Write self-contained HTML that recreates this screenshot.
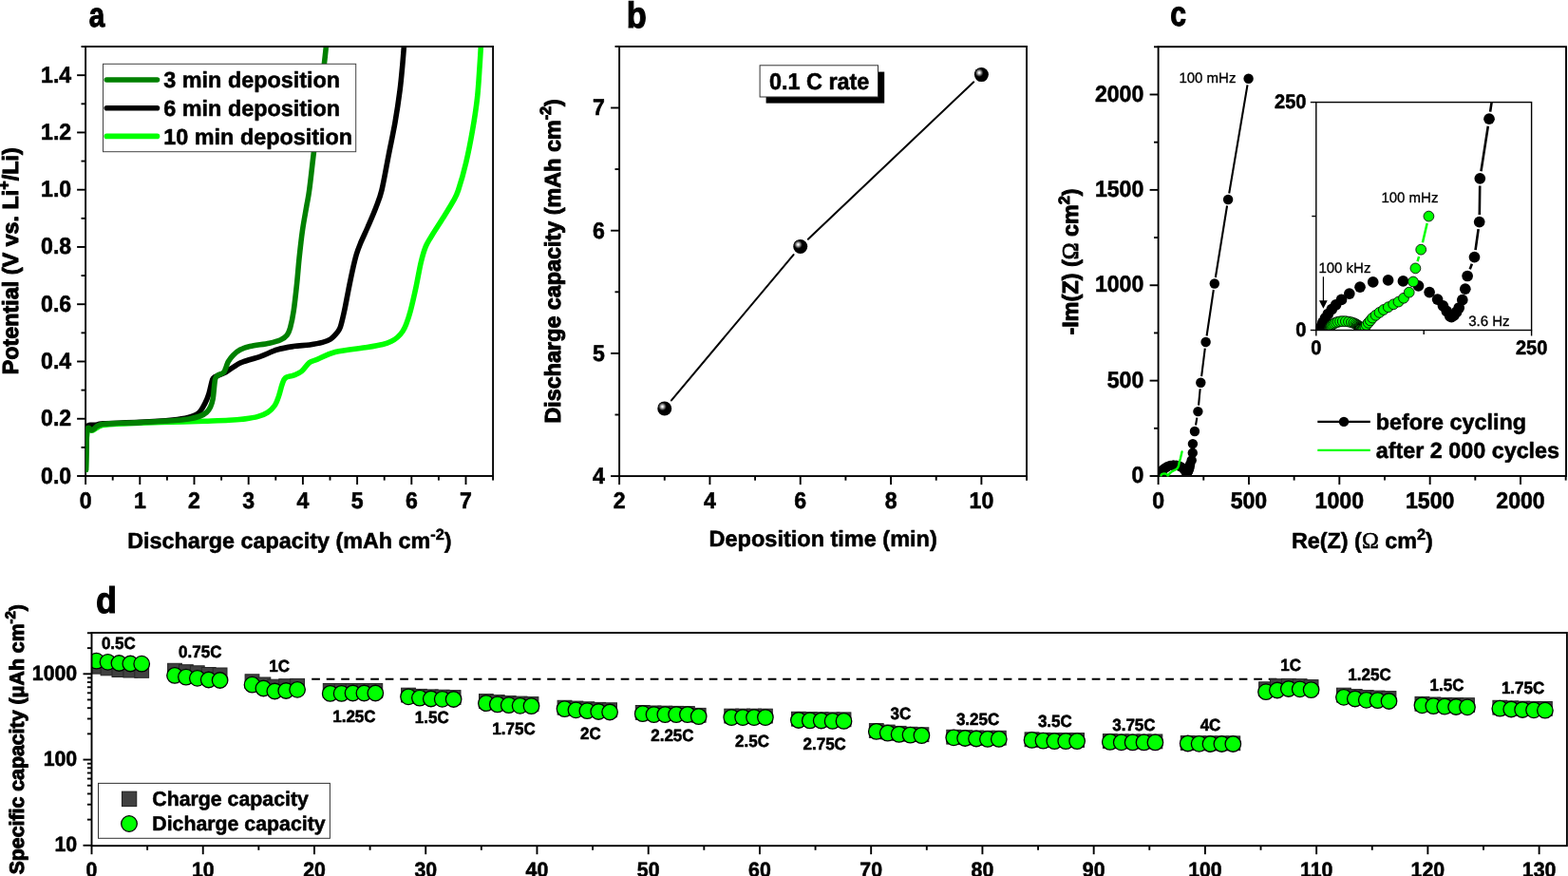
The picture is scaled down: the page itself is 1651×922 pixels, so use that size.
<!DOCTYPE html>
<html lang="en">
<head>
<meta charset="utf-8">
<title>Figure</title>
<style>
html,body{margin:0;padding:0;background:#fff;}
body{width:1651px;height:922px;overflow:hidden;}
svg{display:block;}
</style>
</head>
<body>
<svg width="1651" height="922" viewBox="0 0 1651 922" font-family='"Liberation Sans", sans-serif' fill="#000" text-rendering="geometricPrecision">
<rect x="0" y="0" width="1651" height="922" fill="#fff"/>
<g id="panel-a">
<clipPath id="clipA"><rect x="90.19999999999999" y="49.9" width="429.0" height="450.2"/></clipPath>
<rect x="90.1" y="49" width="429" height="452" fill="none" stroke="#000" stroke-width="1.9"/>
<g clip-path="url(#clipA)" fill="none" stroke-width="5.6" stroke-linejoin="round" stroke-linecap="round">
<path d="M90.5,494.5C90.58,490.42 90.77,476.68 91,470C91.23,463.32 91.32,457.3 91.9,454.4C92.48,451.5 93.48,452.87 94.5,452.6C95.52,452.33 96.75,453.2 98,452.8C99.25,452.4 100.6,451 102,450.2C103.4,449.4 104.23,448.6 106.4,448C108.57,447.4 108.1,447.07 115,446.6C121.9,446.13 136.67,445.6 147.8,445.2C158.93,444.8 170.48,444.53 181.8,444.2C193.12,443.87 205.82,443.52 215.7,443.2C225.58,442.88 234.03,442.68 241.1,442.3C248.17,441.92 253,441.55 258.1,440.9C263.2,440.25 267.75,439.53 271.7,438.4C275.65,437.27 278.83,436.08 281.8,434.1C284.77,432.12 287.52,429.47 289.5,426.5C291.48,423.53 292.43,419.97 293.7,416.3C294.97,412.63 295.97,407.6 297.1,404.5C298.23,401.4 298.52,399.27 300.5,397.7C302.48,396.13 306.17,396.23 309,395.1C311.83,393.97 314.68,393.15 317.5,390.9C320.32,388.65 323.08,383.72 325.9,381.6C328.72,379.48 329.88,380.05 334.4,378.2C338.92,376.35 344.3,372.62 353,370.5C361.7,368.38 378.27,366.83 386.6,365.5C394.93,364.17 398.77,363.53 403,362.5C407.23,361.47 409.42,360.55 412,359.3C414.58,358.05 416.53,356.72 418.5,355C420.47,353.28 422.28,351.25 423.8,349C425.32,346.75 426.2,345.13 427.6,341.5C429,337.87 430.45,333.82 432.2,327.2C433.95,320.58 436.27,310.28 438.1,301.8C439.93,293.32 441.5,283.37 443.2,276.3C444.9,269.23 446.33,264.2 448.3,259.4C450.27,254.6 451.9,252.6 455,247.5C458.1,242.4 463.22,234.73 466.9,228.8C470.58,222.87 474.48,216.7 477.1,211.9C479.72,207.1 480.33,206.78 482.6,200C484.87,193.22 488.22,181.65 490.7,171.2C493.18,160.75 495.53,148.6 497.5,137.3C499.47,126 501.23,114.72 502.5,103.4C503.77,92.08 504.43,78.97 505.1,69.4C505.77,59.83 506.27,49.9 506.5,46" stroke="#00ff00"/>
<path d="M90.3,494.5C90.38,490.42 90.6,477.25 90.8,470C91,462.75 91.05,454.73 91.5,451C91.95,447.27 92.58,448.22 93.5,447.6C94.42,446.98 95.58,447.4 97,447.3C98.42,447.2 100,447.25 102,447C104,446.75 101.37,446.23 109,445.8C116.63,445.37 135.67,445.03 147.8,444.4C159.93,443.77 173.43,442.82 181.8,442C190.17,441.18 193.48,440.67 198,439.5C202.52,438.33 205.95,437.45 208.9,435C211.85,432.55 213.87,428.2 215.7,424.8C217.53,421.4 218.63,418.57 219.9,414.6C221.17,410.63 222.3,403.97 223.3,401C224.3,398.03 223.5,398.35 225.9,396.8C228.3,395.25 233.75,393.87 237.7,391.7C241.65,389.53 246.48,385.63 249.6,383.8C252.72,381.97 252.17,382.2 256.4,380.7C260.63,379.2 269.07,376.92 275,374.8C280.93,372.68 286.33,369.7 292,368C297.67,366.3 303.35,365.45 309,364.6C314.65,363.75 320.82,363.6 325.9,362.9C330.98,362.2 335.82,361.38 339.5,360.4C343.18,359.42 345.45,358.7 348,357C350.55,355.3 353.07,352.33 354.8,350.2C356.53,348.07 357.1,348.03 358.4,344.2C359.7,340.37 361.18,333.7 362.6,327.2C364.02,320.7 365.48,312.27 366.9,305.2C368.32,298.13 369.7,291.03 371.1,284.8C372.5,278.57 373.88,272.6 375.3,267.8C376.72,263 377.62,260.8 379.6,256C381.58,251.2 384.52,245.22 387.2,239C389.88,232.78 393.23,225.2 395.7,218.7C398.17,212.2 399.73,209.33 402,200C404.27,190.67 406.97,174.57 409.3,162.7C411.63,150.83 414.03,140.1 416,128.8C417.97,117.5 419.82,104.8 421.1,94.9C422.38,85 422.95,77.55 423.7,69.4C424.45,61.25 425.28,49.9 425.6,46" stroke="#000"/>
<path d="M90.4,494.5C90.48,490.42 90.68,476.92 90.9,470C91.12,463.08 91.28,456.3 91.7,453C92.12,449.7 92.68,450.23 93.4,450.2C94.12,450.17 95.13,452.53 96,452.8C96.87,453.07 97.67,452.43 98.6,451.8C99.53,451.17 100.3,449.83 101.6,449C102.9,448.17 104.17,447.35 106.4,446.8C108.63,446.25 110.07,445.98 115,445.7C119.93,445.42 130.53,445.28 136,445.1C141.47,444.92 140.17,444.98 147.8,444.6C155.43,444.22 173.32,443.42 181.8,442.8C190.28,442.18 193.9,441.7 198.7,440.9C203.5,440.1 207.48,439.13 210.6,438C213.72,436.87 215.57,435.73 217.4,434.1C219.23,432.47 220.47,430.6 221.6,428.2C222.73,425.8 223.55,423.1 224.2,419.7C224.85,416.3 225.08,411.33 225.5,407.8C225.92,404.27 226.07,400.62 226.7,398.5C227.33,396.38 227.88,396.15 229.3,395.1C230.72,394.05 233.8,393.47 235.2,392.2C236.6,390.93 236.85,389.42 237.7,387.5C238.55,385.58 239.02,382.97 240.3,380.7C241.58,378.43 243.28,376.02 245.4,373.9C247.52,371.78 250.03,369.55 253,368C255.97,366.45 258.12,365.73 263.2,364.6C268.28,363.47 278.13,362.33 283.5,361.2C288.87,360.07 292.28,359.22 295.4,357.8C298.52,356.38 300.5,354.82 302.2,352.7C303.9,350.58 304.43,349.35 305.6,345.1C306.77,340.85 308.03,334.98 309.2,327.2C310.37,319.42 311.62,307.73 312.6,298.4C313.58,289.07 314.12,280.53 315.1,271.2C316.08,261.87 317.22,251.43 318.5,242.4C319.78,233.37 321.6,224.07 322.8,217C324,209.93 324.43,209.47 325.7,200C326.97,190.53 327.78,182.33 330.4,160.2C333.02,138.07 339.2,86.23 341.4,67.2C343.6,48.17 343.23,49.53 343.6,46" stroke="#008000"/>
</g>
<line x1="81.1" y1="501" x2="90.1" y2="501" stroke="#000" stroke-width="1.9" />
<text transform="translate(75.2,508.5) scale(1,1.045)" font-size="23.1" font-weight="bold" text-anchor="end" stroke="#000" stroke-width="0.55" stroke-linejoin="round" >0.0</text>
<line x1="85.5" y1="470.87" x2="90.1" y2="470.87" stroke="#000" stroke-width="1.9" />
<line x1="81.1" y1="440.74" x2="90.1" y2="440.74" stroke="#000" stroke-width="1.9" />
<text transform="translate(75.2,448.24) scale(1,1.045)" font-size="23.1" font-weight="bold" text-anchor="end" stroke="#000" stroke-width="0.55" stroke-linejoin="round" >0.2</text>
<line x1="85.5" y1="410.61" x2="90.1" y2="410.61" stroke="#000" stroke-width="1.9" />
<line x1="81.1" y1="380.48" x2="90.1" y2="380.48" stroke="#000" stroke-width="1.9" />
<text transform="translate(75.2,387.98) scale(1,1.045)" font-size="23.1" font-weight="bold" text-anchor="end" stroke="#000" stroke-width="0.55" stroke-linejoin="round" >0.4</text>
<line x1="85.5" y1="350.35" x2="90.1" y2="350.35" stroke="#000" stroke-width="1.9" />
<line x1="81.1" y1="320.22" x2="90.1" y2="320.22" stroke="#000" stroke-width="1.9" />
<text transform="translate(75.2,327.72) scale(1,1.045)" font-size="23.1" font-weight="bold" text-anchor="end" stroke="#000" stroke-width="0.55" stroke-linejoin="round" >0.6</text>
<line x1="85.5" y1="290.09" x2="90.1" y2="290.09" stroke="#000" stroke-width="1.9" />
<line x1="81.1" y1="259.96" x2="90.1" y2="259.96" stroke="#000" stroke-width="1.9" />
<text transform="translate(75.2,267.46) scale(1,1.045)" font-size="23.1" font-weight="bold" text-anchor="end" stroke="#000" stroke-width="0.55" stroke-linejoin="round" >0.8</text>
<line x1="85.5" y1="229.83" x2="90.1" y2="229.83" stroke="#000" stroke-width="1.9" />
<line x1="81.1" y1="199.7" x2="90.1" y2="199.7" stroke="#000" stroke-width="1.9" />
<text transform="translate(75.2,207.2) scale(1,1.045)" font-size="23.1" font-weight="bold" text-anchor="end" stroke="#000" stroke-width="0.55" stroke-linejoin="round" >1.0</text>
<line x1="85.5" y1="169.57" x2="90.1" y2="169.57" stroke="#000" stroke-width="1.9" />
<line x1="81.1" y1="139.44" x2="90.1" y2="139.44" stroke="#000" stroke-width="1.9" />
<text transform="translate(75.2,146.94) scale(1,1.045)" font-size="23.1" font-weight="bold" text-anchor="end" stroke="#000" stroke-width="0.55" stroke-linejoin="round" >1.2</text>
<line x1="85.5" y1="109.31" x2="90.1" y2="109.31" stroke="#000" stroke-width="1.9" />
<line x1="81.1" y1="79.18" x2="90.1" y2="79.18" stroke="#000" stroke-width="1.9" />
<text transform="translate(75.2,86.68) scale(1,1.045)" font-size="23.1" font-weight="bold" text-anchor="end" stroke="#000" stroke-width="0.55" stroke-linejoin="round" >1.4</text>
<line x1="85.5" y1="49.05" x2="90.1" y2="49.05" stroke="#000" stroke-width="1.9" />
<line x1="90.1" y1="501" x2="90.1" y2="510" stroke="#000" stroke-width="1.9" />
<text transform="translate(90.1,534.5) scale(1,1.045)" font-size="23.1" font-weight="bold" text-anchor="middle" stroke="#000" stroke-width="0.55" stroke-linejoin="round" >0</text>
<line x1="118.7" y1="501" x2="118.7" y2="505.6" stroke="#000" stroke-width="1.9" />
<line x1="147.3" y1="501" x2="147.3" y2="510" stroke="#000" stroke-width="1.9" />
<text transform="translate(147.3,534.5) scale(1,1.045)" font-size="23.1" font-weight="bold" text-anchor="middle" stroke="#000" stroke-width="0.55" stroke-linejoin="round" >1</text>
<line x1="175.9" y1="501" x2="175.9" y2="505.6" stroke="#000" stroke-width="1.9" />
<line x1="204.5" y1="501" x2="204.5" y2="510" stroke="#000" stroke-width="1.9" />
<text transform="translate(204.5,534.5) scale(1,1.045)" font-size="23.1" font-weight="bold" text-anchor="middle" stroke="#000" stroke-width="0.55" stroke-linejoin="round" >2</text>
<line x1="233.1" y1="501" x2="233.1" y2="505.6" stroke="#000" stroke-width="1.9" />
<line x1="261.7" y1="501" x2="261.7" y2="510" stroke="#000" stroke-width="1.9" />
<text transform="translate(261.7,534.5) scale(1,1.045)" font-size="23.1" font-weight="bold" text-anchor="middle" stroke="#000" stroke-width="0.55" stroke-linejoin="round" >3</text>
<line x1="290.3" y1="501" x2="290.3" y2="505.6" stroke="#000" stroke-width="1.9" />
<line x1="318.9" y1="501" x2="318.9" y2="510" stroke="#000" stroke-width="1.9" />
<text transform="translate(318.9,534.5) scale(1,1.045)" font-size="23.1" font-weight="bold" text-anchor="middle" stroke="#000" stroke-width="0.55" stroke-linejoin="round" >4</text>
<line x1="347.5" y1="501" x2="347.5" y2="505.6" stroke="#000" stroke-width="1.9" />
<line x1="376.1" y1="501" x2="376.1" y2="510" stroke="#000" stroke-width="1.9" />
<text transform="translate(376.1,534.5) scale(1,1.045)" font-size="23.1" font-weight="bold" text-anchor="middle" stroke="#000" stroke-width="0.55" stroke-linejoin="round" >5</text>
<line x1="404.7" y1="501" x2="404.7" y2="505.6" stroke="#000" stroke-width="1.9" />
<line x1="433.3" y1="501" x2="433.3" y2="510" stroke="#000" stroke-width="1.9" />
<text transform="translate(433.3,534.5) scale(1,1.045)" font-size="23.1" font-weight="bold" text-anchor="middle" stroke="#000" stroke-width="0.55" stroke-linejoin="round" >6</text>
<line x1="461.9" y1="501" x2="461.9" y2="505.6" stroke="#000" stroke-width="1.9" />
<line x1="490.5" y1="501" x2="490.5" y2="510" stroke="#000" stroke-width="1.9" />
<text transform="translate(490.5,534.5) scale(1,1.045)" font-size="23.1" font-weight="bold" text-anchor="middle" stroke="#000" stroke-width="0.55" stroke-linejoin="round" >7</text>
<line x1="519.1" y1="501" x2="519.1" y2="505.6" stroke="#000" stroke-width="1.9" />
<text x="304.9" y="577.2" font-size="23.35" font-weight="bold" text-anchor="middle" stroke="#000" stroke-width="0.55" stroke-linejoin="round" >Discharge capacity (mAh cm<tspan font-size="16.3" dy="-9.7">-2</tspan><tspan dy="9.7">)</tspan></text>
<g transform="translate(19.2,274.7) rotate(-90)">
<text x="0" y="0" font-size="23.35" font-weight="bold" text-anchor="middle" stroke="#000" stroke-width="1.0" stroke-linejoin="round" >Potential (V vs. Li<tspan font-size="16.3" dy="-9.7">+</tspan><tspan dy="9.7">/Li)</tspan></text>
</g>
<rect x="108.5" y="67.3" width="266.2" height="92.4" fill="#fff" stroke="#444" stroke-width="1"/>
<line x1="112.3" y1="84" x2="165.5" y2="84" stroke="#008000" stroke-width="5.6" stroke-linecap="round"/>
<text x="172.3" y="92.3" font-size="23.4" font-weight="bold" text-anchor="start" stroke="#000" stroke-width="0.55" stroke-linejoin="round" >3 min deposition</text>
<line x1="112.3" y1="113.7" x2="165.5" y2="113.7" stroke="#000" stroke-width="5.6" stroke-linecap="round"/>
<text x="172.3" y="122" font-size="23.4" font-weight="bold" text-anchor="start" stroke="#000" stroke-width="0.55" stroke-linejoin="round" >6 min deposition</text>
<line x1="112.3" y1="143.4" x2="165.5" y2="143.4" stroke="#00ff00" stroke-width="5.6" stroke-linecap="round"/>
<text x="172.3" y="151.7" font-size="23.4" font-weight="bold" text-anchor="start" stroke="#000" stroke-width="0.55" stroke-linejoin="round" >10 min deposition</text>
<text transform="translate(93.7,27.7) scale(0.82,1)" font-size="36.2" font-weight="bold" stroke="#000" stroke-width="1.1">a</text>
</g>
<g id="panel-b">
<defs><radialGradient id="sph" cx="0.5" cy="0.5" r="0.5"><stop offset="0" stop-color="#ffffff"/><stop offset="0.15" stop-color="#f4f4f4"/><stop offset="0.5" stop-color="#8c8c8c"/><stop offset="0.8" stop-color="#2a2a2a"/><stop offset="1" stop-color="#000"/></radialGradient></defs>
<rect x="652.1" y="48.95" width="428.9" height="452.15" fill="none" stroke="#000" stroke-width="1.9"/>
<line x1="643.1" y1="501.1" x2="652.1" y2="501.1" stroke="#000" stroke-width="1.9" />
<text transform="translate(636.9,508.9) scale(1,1.045)" font-size="23.1" font-weight="bold" text-anchor="end" stroke="#000" stroke-width="0.55" stroke-linejoin="round" >4</text>
<line x1="647.5" y1="436.5" x2="652.1" y2="436.5" stroke="#000" stroke-width="1.9" />
<line x1="643.1" y1="371.9" x2="652.1" y2="371.9" stroke="#000" stroke-width="1.9" />
<text transform="translate(636.9,379.7) scale(1,1.045)" font-size="23.1" font-weight="bold" text-anchor="end" stroke="#000" stroke-width="0.55" stroke-linejoin="round" >5</text>
<line x1="647.5" y1="307.3" x2="652.1" y2="307.3" stroke="#000" stroke-width="1.9" />
<line x1="643.1" y1="242.7" x2="652.1" y2="242.7" stroke="#000" stroke-width="1.9" />
<text transform="translate(636.9,250.5) scale(1,1.045)" font-size="23.1" font-weight="bold" text-anchor="end" stroke="#000" stroke-width="0.55" stroke-linejoin="round" >6</text>
<line x1="647.5" y1="178.1" x2="652.1" y2="178.1" stroke="#000" stroke-width="1.9" />
<line x1="643.1" y1="113.5" x2="652.1" y2="113.5" stroke="#000" stroke-width="1.9" />
<text transform="translate(636.9,121.3) scale(1,1.045)" font-size="23.1" font-weight="bold" text-anchor="end" stroke="#000" stroke-width="0.55" stroke-linejoin="round" >7</text>
<line x1="647.5" y1="48.9" x2="652.1" y2="48.9" stroke="#000" stroke-width="1.9" />
<line x1="652.1" y1="501.1" x2="652.1" y2="510.1" stroke="#000" stroke-width="1.9" />
<text transform="translate(652.1,534.5) scale(1,1.045)" font-size="23.1" font-weight="bold" text-anchor="middle" stroke="#000" stroke-width="0.55" stroke-linejoin="round" >2</text>
<line x1="699.76" y1="501.1" x2="699.76" y2="505.7" stroke="#000" stroke-width="1.9" />
<line x1="747.42" y1="501.1" x2="747.42" y2="510.1" stroke="#000" stroke-width="1.9" />
<text transform="translate(747.42,534.5) scale(1,1.045)" font-size="23.1" font-weight="bold" text-anchor="middle" stroke="#000" stroke-width="0.55" stroke-linejoin="round" >4</text>
<line x1="795.08" y1="501.1" x2="795.08" y2="505.7" stroke="#000" stroke-width="1.9" />
<line x1="842.74" y1="501.1" x2="842.74" y2="510.1" stroke="#000" stroke-width="1.9" />
<text transform="translate(842.74,534.5) scale(1,1.045)" font-size="23.1" font-weight="bold" text-anchor="middle" stroke="#000" stroke-width="0.55" stroke-linejoin="round" >6</text>
<line x1="890.4" y1="501.1" x2="890.4" y2="505.7" stroke="#000" stroke-width="1.9" />
<line x1="938.06" y1="501.1" x2="938.06" y2="510.1" stroke="#000" stroke-width="1.9" />
<text transform="translate(938.06,534.5) scale(1,1.045)" font-size="23.1" font-weight="bold" text-anchor="middle" stroke="#000" stroke-width="0.55" stroke-linejoin="round" >8</text>
<line x1="985.72" y1="501.1" x2="985.72" y2="505.7" stroke="#000" stroke-width="1.9" />
<line x1="1033.38" y1="501.1" x2="1033.38" y2="510.1" stroke="#000" stroke-width="1.9" />
<text transform="translate(1033.38,534.5) scale(1,1.045)" font-size="23.1" font-weight="bold" text-anchor="middle" stroke="#000" stroke-width="0.55" stroke-linejoin="round" >10</text>
<line x1="1081.04" y1="501.1" x2="1081.04" y2="505.7" stroke="#000" stroke-width="1.9" />
<line x1="706.96" y1="421.46" x2="835.54" y2="268.08" stroke="#000" stroke-width="2.0" stroke-linecap="round"/>
<line x1="850.86" y1="251.79" x2="1025.26" y2="86.32" stroke="#000" stroke-width="2.0" stroke-linecap="round"/>
<circle cx="699.76" cy="430.04" r="7.5" fill="#000"/>
<circle cx="697.46" cy="427.94" r="4.5" fill="url(#sph)"/>
<circle cx="842.74" cy="259.5" r="7.5" fill="#000"/>
<circle cx="840.44" cy="257.4" r="4.5" fill="url(#sph)"/>
<circle cx="1033.38" cy="78.62" r="7.5" fill="#000"/>
<circle cx="1031.08" cy="76.52" r="4.5" fill="url(#sph)"/>
<rect x="806.6" y="75.6" width="124.6" height="33.0" fill="#000"/>
<rect x="800.1" y="68.8" width="124.4" height="33.2" fill="#fff" stroke="#333" stroke-width="1"/>
<text transform="translate(810,93.9) scale(1,1.04)" font-size="23.4" font-weight="bold" text-anchor="start" stroke="#000" stroke-width="0.55" stroke-linejoin="round" >0.1 C rate</text>
<text x="866.7" y="574.6" font-size="23.5" font-weight="bold" text-anchor="middle" stroke="#000" stroke-width="0.55" stroke-linejoin="round" >Deposition time (min)</text>
<g transform="translate(590.0,274.8) rotate(-90)">
<text x="0" y="0" font-size="23.35" font-weight="bold" text-anchor="middle" stroke="#000" stroke-width="1.0" stroke-linejoin="round" >Discharge capacity (mAh cm<tspan font-size="16.3" dy="-9.7">-2</tspan><tspan dy="9.7">)</tspan></text>
</g>
<text transform="translate(659.7,28.9) scale(0.9,1)" font-size="38.3" font-weight="bold" stroke="#000" stroke-width="1.1">b</text>
</g>
<g id="panel-c">
<clipPath id="clipC"><rect x="1219.6" y="49.2" width="429.4000000000001" height="453.0"/></clipPath>
<clipPath id="clipI"><rect x="1385.8" y="107.6" width="226.79999999999995" height="239.9"/></clipPath>
<rect x="1219.6" y="49.2" width="429.4" height="451.8" fill="none" stroke="#000" stroke-width="1.9"/>
<clipPath id="clipC2"><rect x="1219.6" y="49.2" width="429.4000000000001" height="450.90000000000003"/></clipPath>
<g clip-path="url(#clipC2)">
<path d="M1313.5,89.31L1294.2,203.49M1292.05,216.52L1279.85,291.98M1277.82,305.03L1270.58,353.47M1268.79,366.55L1265.11,396.15M1263.67,409.27L1262.03,426.53M1260.33,439.61L1259.02,447.52" fill="none" stroke="#000" stroke-width="2.1"/>
<circle cx="1314.6" cy="82.8" r="5.2" fill="#000"/>
<circle cx="1293.1" cy="210" r="5.2" fill="#000"/>
<circle cx="1278.8" cy="298.5" r="5.2" fill="#000"/>
<circle cx="1269.6" cy="360" r="5.2" fill="#000"/>
<circle cx="1264.3" cy="402.7" r="5.2" fill="#000"/>
<circle cx="1261.4" cy="433.1" r="5.2" fill="#000"/>
<circle cx="1257.95" cy="454.03" r="5.2" fill="#000"/>
<circle cx="1255.91" cy="467.12" r="5.2" fill="#000"/>
<circle cx="1255.78" cy="476.69" r="5.2" fill="#000"/>
<circle cx="1254.69" cy="484.43" r="5.2" fill="#000"/>
<circle cx="1253.13" cy="488.59" r="5.2" fill="#000"/>
<circle cx="1252.65" cy="491.45" r="5.2" fill="#000"/>
<circle cx="1252.01" cy="493.85" r="5.2" fill="#000"/>
<circle cx="1251.26" cy="495.59" r="5.2" fill="#000"/>
<circle cx="1250.71" cy="496.51" r="5.2" fill="#000"/>
<circle cx="1250.16" cy="497.24" r="5.2" fill="#000"/>
<circle cx="1249.59" cy="497.62" r="5.2" fill="#000"/>
<circle cx="1249.26" cy="497.36" r="5.2" fill="#000"/>
<circle cx="1248.54" cy="496.34" r="5.2" fill="#000"/>
<circle cx="1247.72" cy="495.13" r="5.2" fill="#000"/>
<circle cx="1246.5" cy="493.73" r="5.2" fill="#000"/>
<circle cx="1244.71" cy="492.16" r="5.2" fill="#000"/>
<circle cx="1242.27" cy="490.74" r="5.2" fill="#000"/>
<circle cx="1238.88" cy="489.71" r="5.2" fill="#000"/>
<circle cx="1235.55" cy="489.51" r="5.2" fill="#000"/>
<circle cx="1232.21" cy="489.92" r="5.2" fill="#000"/>
<circle cx="1229.32" cy="491.03" r="5.2" fill="#000"/>
<circle cx="1226.97" cy="492.47" r="5.2" fill="#000"/>
<circle cx="1225.22" cy="493.79" r="5.2" fill="#000"/>
<circle cx="1223.98" cy="494.92" r="5.2" fill="#000"/>
<circle cx="1223.05" cy="495.94" r="5.2" fill="#000"/>
<circle cx="1222.23" cy="496.95" r="5.2" fill="#000"/>
<circle cx="1221.62" cy="497.87" r="5.2" fill="#000"/>
<circle cx="1221.09" cy="498.79" r="5.2" fill="#000"/>
<circle cx="1220.69" cy="499.81" r="5.2" fill="#000"/>
<circle cx="1220.53" cy="500.06" r="5.2" fill="#000"/>
<circle cx="1220.38" cy="500.31" r="5.2" fill="#000"/>
<circle cx="1220.23" cy="500.52" r="5.2" fill="#000"/>
<circle cx="1220.11" cy="500.69" r="5.2" fill="#000"/>
<circle cx="1219.98" cy="500.86" r="5.2" fill="#000"/>
</g>
<g clip-path="url(#clipC)">
<polyline fill="none" stroke="#00ff00" stroke-width="2.4" stroke-linejoin="round" stroke-linecap="round" points="1244.56,475.44 1242.84,482.77 1241.62,486.89 1241.11,489.84 1240.21,492.18 1239.01,493.46 1237.85,494.25 1236.73,494.81 1235.6,495.42 1234.57,496.01 1233.64,496.61 1232.82,497.22 1232.1,497.8 1231.6,498.39 1231.18,498.89 1230.76,499.37 1230.46,499.77 1230.21,500.06 1230,500.29 1229.81,500.44 1229.64,500.52 1229.44,500.43 1229.44,500.41 1229.43,500.38 1229.43,500.34 1229.42,500.3 1229.4,500.24 1229.38,500.18 1229.35,500.1 1229.31,500.01 1229.25,499.91 1229.16,499.78 1229.03,499.64 1228.86,499.48 1228.63,499.31 1228.32,499.12 1227.91,498.94 1227.41,498.77 1226.81,498.64 1226.15,498.55 1225.48,498.54 1224.91,498.59 1224.39,498.7 1223.94,498.85 1223.57,499.03 1223.28,499.22 1223.05,499.4 1222.89,499.57 1222.77,499.72 1222.68,499.85 1222.62,499.96 1222.58,500.06 1222.55,500.14 1222.53,500.21 1222.52,500.27 1222.51,500.32 1222.5,500.36 1222.49,500.39 1222.49,500.42"/>
</g>
<line x1="1210.6" y1="501" x2="1219.6" y2="501" stroke="#000" stroke-width="1.9" />
<text transform="translate(1204.3,508.1) scale(1,1.045)" font-size="23.1" font-weight="bold" text-anchor="end" stroke="#000" stroke-width="0.55" stroke-linejoin="round" >0</text>
<line x1="1215" y1="450.81" x2="1219.6" y2="450.81" stroke="#000" stroke-width="1.9" />
<line x1="1210.6" y1="400.62" x2="1219.6" y2="400.62" stroke="#000" stroke-width="1.9" />
<text transform="translate(1204.3,407.73) scale(1,1.045)" font-size="23.1" font-weight="bold" text-anchor="end" stroke="#000" stroke-width="0.55" stroke-linejoin="round" >500</text>
<line x1="1215" y1="350.44" x2="1219.6" y2="350.44" stroke="#000" stroke-width="1.9" />
<line x1="1210.6" y1="300.25" x2="1219.6" y2="300.25" stroke="#000" stroke-width="1.9" />
<text transform="translate(1204.3,307.35) scale(1,1.045)" font-size="23.1" font-weight="bold" text-anchor="end" stroke="#000" stroke-width="0.55" stroke-linejoin="round" >1000</text>
<line x1="1215" y1="250.06" x2="1219.6" y2="250.06" stroke="#000" stroke-width="1.9" />
<line x1="1210.6" y1="199.88" x2="1219.6" y2="199.88" stroke="#000" stroke-width="1.9" />
<text transform="translate(1204.3,206.97) scale(1,1.045)" font-size="23.1" font-weight="bold" text-anchor="end" stroke="#000" stroke-width="0.55" stroke-linejoin="round" >1500</text>
<line x1="1215" y1="149.69" x2="1219.6" y2="149.69" stroke="#000" stroke-width="1.9" />
<line x1="1210.6" y1="99.5" x2="1219.6" y2="99.5" stroke="#000" stroke-width="1.9" />
<text transform="translate(1204.3,106.6) scale(1,1.045)" font-size="23.1" font-weight="bold" text-anchor="end" stroke="#000" stroke-width="0.55" stroke-linejoin="round" >2000</text>
<line x1="1215" y1="49.31" x2="1219.6" y2="49.31" stroke="#000" stroke-width="1.9" />
<line x1="1219.6" y1="501" x2="1219.6" y2="510" stroke="#000" stroke-width="1.9" />
<text transform="translate(1219.6,534.5) scale(1,1.045)" font-size="23.1" font-weight="bold" text-anchor="middle" stroke="#000" stroke-width="0.55" stroke-linejoin="round" >0</text>
<line x1="1267.27" y1="501" x2="1267.27" y2="505.6" stroke="#000" stroke-width="1.9" />
<line x1="1314.95" y1="501" x2="1314.95" y2="510" stroke="#000" stroke-width="1.9" />
<text transform="translate(1314.95,534.5) scale(1,1.045)" font-size="23.1" font-weight="bold" text-anchor="middle" stroke="#000" stroke-width="0.55" stroke-linejoin="round" >500</text>
<line x1="1362.62" y1="501" x2="1362.62" y2="505.6" stroke="#000" stroke-width="1.9" />
<line x1="1410.3" y1="501" x2="1410.3" y2="510" stroke="#000" stroke-width="1.9" />
<text transform="translate(1410.3,534.5) scale(1,1.045)" font-size="23.1" font-weight="bold" text-anchor="middle" stroke="#000" stroke-width="0.55" stroke-linejoin="round" >1000</text>
<line x1="1457.97" y1="501" x2="1457.97" y2="505.6" stroke="#000" stroke-width="1.9" />
<line x1="1505.65" y1="501" x2="1505.65" y2="510" stroke="#000" stroke-width="1.9" />
<text transform="translate(1505.65,534.5) scale(1,1.045)" font-size="23.1" font-weight="bold" text-anchor="middle" stroke="#000" stroke-width="0.55" stroke-linejoin="round" >1500</text>
<line x1="1553.32" y1="501" x2="1553.32" y2="505.6" stroke="#000" stroke-width="1.9" />
<line x1="1601" y1="501" x2="1601" y2="510" stroke="#000" stroke-width="1.9" />
<text transform="translate(1601,534.5) scale(1,1.045)" font-size="23.1" font-weight="bold" text-anchor="middle" stroke="#000" stroke-width="0.55" stroke-linejoin="round" >2000</text>
<line x1="1648.67" y1="501" x2="1648.67" y2="505.6" stroke="#000" stroke-width="1.9" />
<text x="1434.4" y="577.2" font-size="23.35" font-weight="bold" text-anchor="middle" stroke="#000" stroke-width="0.55" stroke-linejoin="round" >Re(Z) (<tspan font-family='"Liberation Serif", serif' font-weight="normal" font-size="24">Ω</tspan> cm<tspan font-size="16.3" dy="-9.7">2</tspan><tspan dy="9.7">)</tspan></text>
<g transform="translate(1135.3,275.4) rotate(-90)">
<text x="0" y="0" font-size="23.35" font-weight="bold" text-anchor="middle" stroke="#000" stroke-width="1.0" stroke-linejoin="round" >-Im(Z) (<tspan font-family='"Liberation Serif", serif' font-weight="normal" font-size="24">Ω</tspan> cm<tspan font-size="16.3" dy="-9.7">2</tspan><tspan dy="9.7">)</tspan></text>
</g>
<text x="1241.4" y="86.9" font-size="15" font-weight="normal" text-anchor="start" stroke="#000" stroke-width="0.35" >100 mHz</text>
<line x1="1387.3" y1="443.9" x2="1442.8" y2="443.9" stroke="#000" stroke-width="2.1" />
<circle cx="1415" cy="443.9" r="5.2" fill="#000"/>
<text x="1448.7" y="452.3" font-size="23.35" font-weight="bold" text-anchor="start" stroke="#000" stroke-width="0.55" stroke-linejoin="round" >before cycling</text>
<line x1="1387.3" y1="473.8" x2="1442.8" y2="473.8" stroke="#00ff00" stroke-width="2.3" />
<text x="1448.7" y="482.3" font-size="23.35" font-weight="bold" text-anchor="start" stroke="#000" stroke-width="0.55" stroke-linejoin="round" >after 2 000 cycles</text>
<rect x="1385.8" y="107.6" width="226.79999999999995" height="239.9" fill="#fff" stroke="none"/>
<g clip-path="url(#clipI)">
<path d="M1572.09,97.52L1569.11,117.68M1566.84,132.71L1559.46,180.29M1558.2,195.4L1557.8,226M1556.64,241.13L1553.56,263.07M1549.85,277.72L1547.75,283.38" fill="none" stroke="#000" stroke-width="2.6"/>
<circle cx="1568" cy="125.2" r="5.85" fill="#000"/>
<circle cx="1558.3" cy="187.8" r="5.85" fill="#000"/>
<circle cx="1557.7" cy="233.6" r="5.85" fill="#000"/>
<circle cx="1552.5" cy="270.6" r="5.85" fill="#000"/>
<circle cx="1545.1" cy="290.5" r="5.85" fill="#000"/>
<circle cx="1542.8" cy="304.2" r="5.85" fill="#000"/>
<circle cx="1539.8" cy="315.7" r="5.85" fill="#000"/>
<circle cx="1536.2" cy="324" r="5.85" fill="#000"/>
<circle cx="1533.6" cy="328.4" r="5.85" fill="#000"/>
<circle cx="1531" cy="331.9" r="5.85" fill="#000"/>
<circle cx="1528.3" cy="333.7" r="5.85" fill="#000"/>
<circle cx="1526.7" cy="332.5" r="5.85" fill="#000"/>
<circle cx="1523.3" cy="327.6" r="5.85" fill="#000"/>
<circle cx="1519.4" cy="321.8" r="5.85" fill="#000"/>
<circle cx="1513.6" cy="315.1" r="5.85" fill="#000"/>
<circle cx="1505.1" cy="307.6" r="5.85" fill="#000"/>
<circle cx="1493.5" cy="300.8" r="5.85" fill="#000"/>
<circle cx="1477.4" cy="295.9" r="5.85" fill="#000"/>
<circle cx="1461.6" cy="294.9" r="5.85" fill="#000"/>
<circle cx="1445.7" cy="296.9" r="5.85" fill="#000"/>
<circle cx="1432" cy="302.2" r="5.85" fill="#000"/>
<circle cx="1420.8" cy="309.1" r="5.85" fill="#000"/>
<circle cx="1412.5" cy="315.4" r="5.85" fill="#000"/>
<circle cx="1406.6" cy="320.8" r="5.85" fill="#000"/>
<circle cx="1402.2" cy="325.7" r="5.85" fill="#000"/>
<circle cx="1398.3" cy="330.5" r="5.85" fill="#000"/>
<circle cx="1395.4" cy="334.9" r="5.85" fill="#000"/>
<circle cx="1392.9" cy="339.3" r="5.85" fill="#000"/>
<circle cx="1391" cy="344.2" r="5.85" fill="#000"/>
<circle cx="1390.2" cy="345.4" r="5.85" fill="#000"/>
<circle cx="1389.5" cy="346.6" r="5.85" fill="#000"/>
<circle cx="1388.8" cy="347.6" r="5.85" fill="#000"/>
<circle cx="1388.2" cy="348.4" r="5.85" fill="#000"/>
<circle cx="1387.6" cy="349.2" r="5.85" fill="#000"/>
<path d="M1502.67,235L1497.93,255.3M1494.05,269.99L1492.55,275.11" fill="none" stroke="#00ff00" stroke-width="2.5"/>
<circle cx="1399.54" cy="347.13" r="5.4" fill="#00ff00" stroke="#000" stroke-width="0.85"/>
<circle cx="1399.55" cy="346.99" r="5.4" fill="#00ff00" stroke="#000" stroke-width="0.85"/>
<circle cx="1399.57" cy="346.83" r="5.4" fill="#00ff00" stroke="#000" stroke-width="0.85"/>
<circle cx="1399.61" cy="346.64" r="5.4" fill="#00ff00" stroke="#000" stroke-width="0.85"/>
<circle cx="1399.66" cy="346.4" r="5.4" fill="#00ff00" stroke="#000" stroke-width="0.85"/>
<circle cx="1399.72" cy="346.12" r="5.4" fill="#00ff00" stroke="#000" stroke-width="0.85"/>
<circle cx="1399.82" cy="345.79" r="5.4" fill="#00ff00" stroke="#000" stroke-width="0.85"/>
<circle cx="1399.96" cy="345.4" r="5.4" fill="#00ff00" stroke="#000" stroke-width="0.85"/>
<circle cx="1400.17" cy="344.93" r="5.4" fill="#00ff00" stroke="#000" stroke-width="0.85"/>
<circle cx="1400.46" cy="344.38" r="5.4" fill="#00ff00" stroke="#000" stroke-width="0.85"/>
<circle cx="1400.86" cy="343.75" r="5.4" fill="#00ff00" stroke="#000" stroke-width="0.85"/>
<circle cx="1401.43" cy="343.03" r="5.4" fill="#00ff00" stroke="#000" stroke-width="0.85"/>
<circle cx="1402.21" cy="342.22" r="5.4" fill="#00ff00" stroke="#000" stroke-width="0.85"/>
<circle cx="1403.26" cy="341.36" r="5.4" fill="#00ff00" stroke="#000" stroke-width="0.85"/>
<circle cx="1404.65" cy="340.46" r="5.4" fill="#00ff00" stroke="#000" stroke-width="0.85"/>
<circle cx="1406.41" cy="339.61" r="5.4" fill="#00ff00" stroke="#000" stroke-width="0.85"/>
<circle cx="1408.56" cy="338.88" r="5.4" fill="#00ff00" stroke="#000" stroke-width="0.85"/>
<circle cx="1411.03" cy="338.35" r="5.4" fill="#00ff00" stroke="#000" stroke-width="0.85"/>
<circle cx="1413.71" cy="338.11" r="5.4" fill="#00ff00" stroke="#000" stroke-width="0.85"/>
<circle cx="1416.9" cy="338.19" r="5.4" fill="#00ff00" stroke="#000" stroke-width="0.85"/>
<circle cx="1420.07" cy="338.58" r="5.4" fill="#00ff00" stroke="#000" stroke-width="0.85"/>
<circle cx="1422.9" cy="339.22" r="5.4" fill="#00ff00" stroke="#000" stroke-width="0.85"/>
<circle cx="1425.29" cy="340.03" r="5.4" fill="#00ff00" stroke="#000" stroke-width="0.85"/>
<circle cx="1427.21" cy="340.91" r="5.4" fill="#00ff00" stroke="#000" stroke-width="0.85"/>
<circle cx="1428.69" cy="341.8" r="5.4" fill="#00ff00" stroke="#000" stroke-width="0.85"/>
<circle cx="1429.8" cy="342.63" r="5.4" fill="#00ff00" stroke="#000" stroke-width="0.85"/>
<circle cx="1430.62" cy="343.4" r="5.4" fill="#00ff00" stroke="#000" stroke-width="0.85"/>
<circle cx="1431.21" cy="344.08" r="5.4" fill="#00ff00" stroke="#000" stroke-width="0.85"/>
<circle cx="1431.62" cy="344.67" r="5.4" fill="#00ff00" stroke="#000" stroke-width="0.85"/>
<circle cx="1431.92" cy="345.17" r="5.4" fill="#00ff00" stroke="#000" stroke-width="0.85"/>
<circle cx="1432.13" cy="345.6" r="5.4" fill="#00ff00" stroke="#000" stroke-width="0.85"/>
<circle cx="1432.27" cy="345.96" r="5.4" fill="#00ff00" stroke="#000" stroke-width="0.85"/>
<circle cx="1432.37" cy="346.27" r="5.4" fill="#00ff00" stroke="#000" stroke-width="0.85"/>
<circle cx="1432.44" cy="346.52" r="5.4" fill="#00ff00" stroke="#000" stroke-width="0.85"/>
<circle cx="1432.49" cy="346.74" r="5.4" fill="#00ff00" stroke="#000" stroke-width="0.85"/>
<circle cx="1432.52" cy="346.92" r="5.4" fill="#00ff00" stroke="#000" stroke-width="0.85"/>
<circle cx="1432.55" cy="347.06" r="5.4" fill="#00ff00" stroke="#000" stroke-width="0.85"/>
<circle cx="1432.56" cy="347.19" r="5.4" fill="#00ff00" stroke="#000" stroke-width="0.85"/>
<circle cx="1433.5" cy="347.6" r="5.4" fill="#00ff00" stroke="#000" stroke-width="0.85"/>
<circle cx="1434.3" cy="347.2" r="5.4" fill="#00ff00" stroke="#000" stroke-width="0.85"/>
<circle cx="1435.2" cy="346.5" r="5.4" fill="#00ff00" stroke="#000" stroke-width="0.85"/>
<circle cx="1436.2" cy="345.4" r="5.4" fill="#00ff00" stroke="#000" stroke-width="0.85"/>
<circle cx="1437.4" cy="344" r="5.4" fill="#00ff00" stroke="#000" stroke-width="0.85"/>
<circle cx="1438.8" cy="342.1" r="5.4" fill="#00ff00" stroke="#000" stroke-width="0.85"/>
<circle cx="1440.8" cy="339.8" r="5.4" fill="#00ff00" stroke="#000" stroke-width="0.85"/>
<circle cx="1442.8" cy="337.4" r="5.4" fill="#00ff00" stroke="#000" stroke-width="0.85"/>
<circle cx="1445.2" cy="334.6" r="5.4" fill="#00ff00" stroke="#000" stroke-width="0.85"/>
<circle cx="1448.6" cy="331.8" r="5.4" fill="#00ff00" stroke="#000" stroke-width="0.85"/>
<circle cx="1452.5" cy="328.9" r="5.4" fill="#00ff00" stroke="#000" stroke-width="0.85"/>
<circle cx="1456.9" cy="326" r="5.4" fill="#00ff00" stroke="#000" stroke-width="0.85"/>
<circle cx="1461.8" cy="323.2" r="5.4" fill="#00ff00" stroke="#000" stroke-width="0.85"/>
<circle cx="1467.2" cy="320.3" r="5.4" fill="#00ff00" stroke="#000" stroke-width="0.85"/>
<circle cx="1472.5" cy="317.6" r="5.4" fill="#00ff00" stroke="#000" stroke-width="0.85"/>
<circle cx="1478" cy="313.8" r="5.4" fill="#00ff00" stroke="#000" stroke-width="0.85"/>
<circle cx="1483.7" cy="307.7" r="5.4" fill="#00ff00" stroke="#000" stroke-width="0.85"/>
<circle cx="1488" cy="296.5" r="5.4" fill="#00ff00" stroke="#000" stroke-width="0.85"/>
<circle cx="1490.4" cy="282.4" r="5.4" fill="#00ff00" stroke="#000" stroke-width="0.85"/>
<circle cx="1496.2" cy="262.7" r="5.4" fill="#00ff00" stroke="#000" stroke-width="0.85"/>
<circle cx="1504.4" cy="227.6" r="5.4" fill="#00ff00" stroke="#000" stroke-width="0.85"/>
</g>
<rect x="1385.8" y="107.6" width="226.8" height="239.9" fill="none" stroke="#000" stroke-width="1.4"/>
<line x1="1379.8" y1="107.6" x2="1385.8" y2="107.6" stroke="#000" stroke-width="1.4" />
<line x1="1381.3" y1="227.55" x2="1385.8" y2="227.55" stroke="#000" stroke-width="1.4" />
<line x1="1379.8" y1="347.5" x2="1385.8" y2="347.5" stroke="#000" stroke-width="1.4" />
<line x1="1385.8" y1="347.5" x2="1385.8" y2="353.5" stroke="#000" stroke-width="1.4" />
<line x1="1499.2" y1="347.5" x2="1499.2" y2="352" stroke="#000" stroke-width="1.4" />
<line x1="1612.6" y1="347.5" x2="1612.6" y2="353.5" stroke="#000" stroke-width="1.4" />
<text transform="translate(1375.4,113.9) scale(1,1.045)" font-size="20" font-weight="bold" text-anchor="end" stroke="#000" stroke-width="0.55" stroke-linejoin="round" >250</text>
<text transform="translate(1375.4,353.8) scale(1,1.045)" font-size="20" font-weight="bold" text-anchor="end" stroke="#000" stroke-width="0.55" stroke-linejoin="round" >0</text>
<text transform="translate(1385.8,373.2) scale(1,1.045)" font-size="20" font-weight="bold" text-anchor="middle" stroke="#000" stroke-width="0.55" stroke-linejoin="round" >0</text>
<text transform="translate(1612.6,373.2) scale(1,1.045)" font-size="20" font-weight="bold" text-anchor="middle" stroke="#000" stroke-width="0.55" stroke-linejoin="round" >250</text>
<text x="1454.4" y="212.8" font-size="15" font-weight="normal" text-anchor="start" stroke="#000" stroke-width="0.35" >100 mHz</text>
<text x="1388.4" y="287.1" font-size="15" font-weight="normal" text-anchor="start" stroke="#000" stroke-width="0.35" >100 kHz</text>
<text x="1546.2" y="342.6" font-size="15" font-weight="normal" text-anchor="start" stroke="#000" stroke-width="0.35" >3.6 Hz</text>
<line x1="1393.4" y1="291.3" x2="1393.4" y2="318" stroke="#000" stroke-width="1.2" />
<path d="M1389,316.2 L1397.7,316.2 L1393.4,324.7 Z" fill="#000"/>
<text transform="translate(1232.3,26.5) scale(0.82,1)" font-size="36.7" font-weight="bold" stroke="#000" stroke-width="1.1">c</text>
</g>
<g id="panel-d">
<clipPath id="clipD"><rect x="96.5" y="666.0" width="1553.4" height="224.20000000000005"/></clipPath>
<line x1="328.2" y1="714.7" x2="1346" y2="714.7" stroke="#000" stroke-width="1.9" stroke-dasharray="8.7 6.8" stroke-dashoffset="0"/>
<g clip-path="url(#clipD)">
<rect x="94.2" y="694.3" width="14.8" height="14.8" fill="#404040" stroke="#262626" stroke-width="1"/>
<rect x="106.1" y="696" width="14.8" height="14.8" fill="#404040" stroke="#262626" stroke-width="1"/>
<rect x="118" y="697.7" width="14.8" height="14.8" fill="#404040" stroke="#262626" stroke-width="1"/>
<rect x="129.9" y="698.2" width="14.8" height="14.8" fill="#404040" stroke="#262626" stroke-width="1"/>
<rect x="141.8" y="698.5" width="14.8" height="14.8" fill="#404040" stroke="#262626" stroke-width="1"/>
<rect x="176.6" y="698.3" width="14.8" height="14.8" fill="#404040" stroke="#262626" stroke-width="1"/>
<rect x="188.5" y="699.7" width="14.8" height="14.8" fill="#404040" stroke="#262626" stroke-width="1"/>
<rect x="200.4" y="700.8" width="14.8" height="14.8" fill="#404040" stroke="#262626" stroke-width="1"/>
<rect x="212.3" y="702.5" width="14.8" height="14.8" fill="#404040" stroke="#262626" stroke-width="1"/>
<rect x="224.2" y="703" width="14.8" height="14.8" fill="#404040" stroke="#262626" stroke-width="1"/>
<rect x="258.1" y="709.8" width="14.8" height="14.8" fill="#404040" stroke="#262626" stroke-width="1"/>
<rect x="270" y="713" width="14.8" height="14.8" fill="#404040" stroke="#262626" stroke-width="1"/>
<rect x="281.9" y="715.2" width="14.8" height="14.8" fill="#404040" stroke="#262626" stroke-width="1"/>
<rect x="293.8" y="714.7" width="14.8" height="14.8" fill="#404040" stroke="#262626" stroke-width="1"/>
<rect x="305.7" y="714.4" width="14.8" height="14.8" fill="#404040" stroke="#262626" stroke-width="1"/>
<rect x="340.3" y="719.5" width="14.8" height="14.8" fill="#404040" stroke="#262626" stroke-width="1"/>
<rect x="352.2" y="719.5" width="14.8" height="14.8" fill="#404040" stroke="#262626" stroke-width="1"/>
<rect x="364.1" y="719.5" width="14.8" height="14.8" fill="#404040" stroke="#262626" stroke-width="1"/>
<rect x="376" y="719.5" width="14.8" height="14.8" fill="#404040" stroke="#262626" stroke-width="1"/>
<rect x="387.9" y="719.5" width="14.8" height="14.8" fill="#404040" stroke="#262626" stroke-width="1"/>
<rect x="422.6" y="724.2" width="14.8" height="14.8" fill="#404040" stroke="#262626" stroke-width="1"/>
<rect x="434.5" y="725.4" width="14.8" height="14.8" fill="#404040" stroke="#262626" stroke-width="1"/>
<rect x="446.4" y="725.9" width="14.8" height="14.8" fill="#404040" stroke="#262626" stroke-width="1"/>
<rect x="458.3" y="726.2" width="14.8" height="14.8" fill="#404040" stroke="#262626" stroke-width="1"/>
<rect x="470.2" y="726.6" width="14.8" height="14.8" fill="#404040" stroke="#262626" stroke-width="1"/>
<rect x="504.5" y="730.6" width="14.8" height="14.8" fill="#404040" stroke="#262626" stroke-width="1"/>
<rect x="516.4" y="731.6" width="14.8" height="14.8" fill="#404040" stroke="#262626" stroke-width="1"/>
<rect x="528.3" y="732.6" width="14.8" height="14.8" fill="#404040" stroke="#262626" stroke-width="1"/>
<rect x="540.2" y="733.1" width="14.8" height="14.8" fill="#404040" stroke="#262626" stroke-width="1"/>
<rect x="552.1" y="733.6" width="14.8" height="14.8" fill="#404040" stroke="#262626" stroke-width="1"/>
<rect x="587.1" y="737.3" width="14.8" height="14.8" fill="#404040" stroke="#262626" stroke-width="1"/>
<rect x="599" y="738.1" width="14.8" height="14.8" fill="#404040" stroke="#262626" stroke-width="1"/>
<rect x="610.9" y="738.8" width="14.8" height="14.8" fill="#404040" stroke="#262626" stroke-width="1"/>
<rect x="622.8" y="739.4" width="14.8" height="14.8" fill="#404040" stroke="#262626" stroke-width="1"/>
<rect x="634.7" y="739.8" width="14.8" height="14.8" fill="#404040" stroke="#262626" stroke-width="1"/>
<rect x="669.3" y="742.5" width="14.8" height="14.8" fill="#404040" stroke="#262626" stroke-width="1"/>
<rect x="681.1" y="743" width="14.8" height="14.8" fill="#404040" stroke="#262626" stroke-width="1"/>
<rect x="692.9" y="743.2" width="14.8" height="14.8" fill="#404040" stroke="#262626" stroke-width="1"/>
<rect x="704.7" y="743.4" width="14.8" height="14.8" fill="#404040" stroke="#262626" stroke-width="1"/>
<rect x="716.5" y="743.6" width="14.8" height="14.8" fill="#404040" stroke="#262626" stroke-width="1"/>
<rect x="728.3" y="745.4" width="14.8" height="14.8" fill="#404040" stroke="#262626" stroke-width="1"/>
<rect x="762.8" y="746.2" width="14.8" height="14.8" fill="#404040" stroke="#262626" stroke-width="1"/>
<rect x="774.7" y="746.2" width="14.8" height="14.8" fill="#404040" stroke="#262626" stroke-width="1"/>
<rect x="786.6" y="746.2" width="14.8" height="14.8" fill="#404040" stroke="#262626" stroke-width="1"/>
<rect x="798.5" y="746.2" width="14.8" height="14.8" fill="#404040" stroke="#262626" stroke-width="1"/>
<rect x="833.5" y="749.3" width="14.8" height="14.8" fill="#404040" stroke="#262626" stroke-width="1"/>
<rect x="845.4" y="749.6" width="14.8" height="14.8" fill="#404040" stroke="#262626" stroke-width="1"/>
<rect x="857.3" y="749.8" width="14.8" height="14.8" fill="#404040" stroke="#262626" stroke-width="1"/>
<rect x="869.2" y="749.9" width="14.8" height="14.8" fill="#404040" stroke="#262626" stroke-width="1"/>
<rect x="881.1" y="749.9" width="14.8" height="14.8" fill="#404040" stroke="#262626" stroke-width="1"/>
<rect x="915.4" y="761.6" width="14.8" height="14.8" fill="#404040" stroke="#262626" stroke-width="1"/>
<rect x="927.3" y="763.1" width="14.8" height="14.8" fill="#404040" stroke="#262626" stroke-width="1"/>
<rect x="939.2" y="764.4" width="14.8" height="14.8" fill="#404040" stroke="#262626" stroke-width="1"/>
<rect x="951.1" y="765.3" width="14.8" height="14.8" fill="#404040" stroke="#262626" stroke-width="1"/>
<rect x="963" y="765.8" width="14.8" height="14.8" fill="#404040" stroke="#262626" stroke-width="1"/>
<rect x="996.8" y="768.3" width="14.8" height="14.8" fill="#404040" stroke="#262626" stroke-width="1"/>
<rect x="1008.7" y="768.8" width="14.8" height="14.8" fill="#404040" stroke="#262626" stroke-width="1"/>
<rect x="1020.6" y="769.1" width="14.8" height="14.8" fill="#404040" stroke="#262626" stroke-width="1"/>
<rect x="1032.5" y="769.3" width="14.8" height="14.8" fill="#404040" stroke="#262626" stroke-width="1"/>
<rect x="1044.4" y="769.3" width="14.8" height="14.8" fill="#404040" stroke="#262626" stroke-width="1"/>
<rect x="1079.1" y="770.9" width="14.8" height="14.8" fill="#404040" stroke="#262626" stroke-width="1"/>
<rect x="1091" y="771.4" width="14.8" height="14.8" fill="#404040" stroke="#262626" stroke-width="1"/>
<rect x="1102.9" y="771.6" width="14.8" height="14.8" fill="#404040" stroke="#262626" stroke-width="1"/>
<rect x="1114.8" y="771.6" width="14.8" height="14.8" fill="#404040" stroke="#262626" stroke-width="1"/>
<rect x="1126.7" y="771.6" width="14.8" height="14.8" fill="#404040" stroke="#262626" stroke-width="1"/>
<rect x="1161.4" y="772.6" width="14.8" height="14.8" fill="#404040" stroke="#262626" stroke-width="1"/>
<rect x="1173.3" y="772.9" width="14.8" height="14.8" fill="#404040" stroke="#262626" stroke-width="1"/>
<rect x="1185.2" y="773" width="14.8" height="14.8" fill="#404040" stroke="#262626" stroke-width="1"/>
<rect x="1197.1" y="773" width="14.8" height="14.8" fill="#404040" stroke="#262626" stroke-width="1"/>
<rect x="1209" y="773" width="14.8" height="14.8" fill="#404040" stroke="#262626" stroke-width="1"/>
<rect x="1243.3" y="774.6" width="14.8" height="14.8" fill="#404040" stroke="#262626" stroke-width="1"/>
<rect x="1255.2" y="774.8" width="14.8" height="14.8" fill="#404040" stroke="#262626" stroke-width="1"/>
<rect x="1267.1" y="774.9" width="14.8" height="14.8" fill="#404040" stroke="#262626" stroke-width="1"/>
<rect x="1279" y="774.9" width="14.8" height="14.8" fill="#404040" stroke="#262626" stroke-width="1"/>
<rect x="1290.9" y="774.9" width="14.8" height="14.8" fill="#404040" stroke="#262626" stroke-width="1"/>
<rect x="1325.6" y="717.8" width="14.8" height="14.8" fill="#404040" stroke="#262626" stroke-width="1"/>
<rect x="1337.5" y="714.7" width="14.8" height="14.8" fill="#404040" stroke="#262626" stroke-width="1"/>
<rect x="1349.4" y="714.4" width="14.8" height="14.8" fill="#404040" stroke="#262626" stroke-width="1"/>
<rect x="1361.3" y="714.7" width="14.8" height="14.8" fill="#404040" stroke="#262626" stroke-width="1"/>
<rect x="1373.2" y="715.6" width="14.8" height="14.8" fill="#404040" stroke="#262626" stroke-width="1"/>
<rect x="1407.5" y="724.2" width="14.8" height="14.8" fill="#404040" stroke="#262626" stroke-width="1"/>
<rect x="1419.4" y="725.6" width="14.8" height="14.8" fill="#404040" stroke="#262626" stroke-width="1"/>
<rect x="1431.3" y="726.6" width="14.8" height="14.8" fill="#404040" stroke="#262626" stroke-width="1"/>
<rect x="1443.2" y="727.1" width="14.8" height="14.8" fill="#404040" stroke="#262626" stroke-width="1"/>
<rect x="1455.1" y="727.6" width="14.8" height="14.8" fill="#404040" stroke="#262626" stroke-width="1"/>
<rect x="1490" y="733.4" width="14.8" height="14.8" fill="#404040" stroke="#262626" stroke-width="1"/>
<rect x="1501.9" y="734" width="14.8" height="14.8" fill="#404040" stroke="#262626" stroke-width="1"/>
<rect x="1513.8" y="734.4" width="14.8" height="14.8" fill="#404040" stroke="#262626" stroke-width="1"/>
<rect x="1525.7" y="734.6" width="14.8" height="14.8" fill="#404040" stroke="#262626" stroke-width="1"/>
<rect x="1537.6" y="734.7" width="14.8" height="14.8" fill="#404040" stroke="#262626" stroke-width="1"/>
<rect x="1571.9" y="737.3" width="14.8" height="14.8" fill="#404040" stroke="#262626" stroke-width="1"/>
<rect x="1583.8" y="737.9" width="14.8" height="14.8" fill="#404040" stroke="#262626" stroke-width="1"/>
<rect x="1595.7" y="738.2" width="14.8" height="14.8" fill="#404040" stroke="#262626" stroke-width="1"/>
<rect x="1607.6" y="738.4" width="14.8" height="14.8" fill="#404040" stroke="#262626" stroke-width="1"/>
<rect x="1619.5" y="738.5" width="14.8" height="14.8" fill="#404040" stroke="#262626" stroke-width="1"/>
<circle cx="101.6" cy="695.7" r="8.25" fill="#00ff00" stroke="#000" stroke-width="1.3"/>
<circle cx="113.5" cy="696.8" r="8.25" fill="#00ff00" stroke="#000" stroke-width="1.3"/>
<circle cx="125.4" cy="698" r="8.25" fill="#00ff00" stroke="#000" stroke-width="1.3"/>
<circle cx="137.3" cy="698.5" r="8.25" fill="#00ff00" stroke="#000" stroke-width="1.3"/>
<circle cx="149.2" cy="698.7" r="8.25" fill="#00ff00" stroke="#000" stroke-width="1.3"/>
<circle cx="184" cy="710.9" r="8.25" fill="#00ff00" stroke="#000" stroke-width="1.3"/>
<circle cx="195.9" cy="712.6" r="8.25" fill="#00ff00" stroke="#000" stroke-width="1.3"/>
<circle cx="207.8" cy="713.8" r="8.25" fill="#00ff00" stroke="#000" stroke-width="1.3"/>
<circle cx="219.7" cy="715.5" r="8.25" fill="#00ff00" stroke="#000" stroke-width="1.3"/>
<circle cx="231.6" cy="716" r="8.25" fill="#00ff00" stroke="#000" stroke-width="1.3"/>
<circle cx="265.5" cy="720.7" r="8.25" fill="#00ff00" stroke="#000" stroke-width="1.3"/>
<circle cx="277.4" cy="724.5" r="8.25" fill="#00ff00" stroke="#000" stroke-width="1.3"/>
<circle cx="289.3" cy="727.5" r="8.25" fill="#00ff00" stroke="#000" stroke-width="1.3"/>
<circle cx="301.2" cy="727" r="8.25" fill="#00ff00" stroke="#000" stroke-width="1.3"/>
<circle cx="313.1" cy="725.8" r="8.25" fill="#00ff00" stroke="#000" stroke-width="1.3"/>
<circle cx="347.7" cy="729.9" r="8.25" fill="#00ff00" stroke="#000" stroke-width="1.3"/>
<circle cx="359.6" cy="729.9" r="8.25" fill="#00ff00" stroke="#000" stroke-width="1.3"/>
<circle cx="371.5" cy="729.5" r="8.25" fill="#00ff00" stroke="#000" stroke-width="1.3"/>
<circle cx="383.4" cy="729.5" r="8.25" fill="#00ff00" stroke="#000" stroke-width="1.3"/>
<circle cx="395.3" cy="729.5" r="8.25" fill="#00ff00" stroke="#000" stroke-width="1.3"/>
<circle cx="430" cy="733.3" r="8.25" fill="#00ff00" stroke="#000" stroke-width="1.3"/>
<circle cx="441.9" cy="734.6" r="8.25" fill="#00ff00" stroke="#000" stroke-width="1.3"/>
<circle cx="453.8" cy="735.5" r="8.25" fill="#00ff00" stroke="#000" stroke-width="1.3"/>
<circle cx="465.7" cy="735.8" r="8.25" fill="#00ff00" stroke="#000" stroke-width="1.3"/>
<circle cx="477.6" cy="736" r="8.25" fill="#00ff00" stroke="#000" stroke-width="1.3"/>
<circle cx="511.9" cy="740.2" r="8.25" fill="#00ff00" stroke="#000" stroke-width="1.3"/>
<circle cx="523.8" cy="741.4" r="8.25" fill="#00ff00" stroke="#000" stroke-width="1.3"/>
<circle cx="535.7" cy="742.2" r="8.25" fill="#00ff00" stroke="#000" stroke-width="1.3"/>
<circle cx="547.6" cy="742.8" r="8.25" fill="#00ff00" stroke="#000" stroke-width="1.3"/>
<circle cx="559.5" cy="743.1" r="8.25" fill="#00ff00" stroke="#000" stroke-width="1.3"/>
<circle cx="594.5" cy="746.1" r="8.25" fill="#00ff00" stroke="#000" stroke-width="1.3"/>
<circle cx="606.4" cy="747.3" r="8.25" fill="#00ff00" stroke="#000" stroke-width="1.3"/>
<circle cx="618.3" cy="748.2" r="8.25" fill="#00ff00" stroke="#000" stroke-width="1.3"/>
<circle cx="630.2" cy="749" r="8.25" fill="#00ff00" stroke="#000" stroke-width="1.3"/>
<circle cx="642.1" cy="749.5" r="8.25" fill="#00ff00" stroke="#000" stroke-width="1.3"/>
<circle cx="676.7" cy="751.2" r="8.25" fill="#00ff00" stroke="#000" stroke-width="1.3"/>
<circle cx="688.5" cy="752.1" r="8.25" fill="#00ff00" stroke="#000" stroke-width="1.3"/>
<circle cx="700.3" cy="752.1" r="8.25" fill="#00ff00" stroke="#000" stroke-width="1.3"/>
<circle cx="712.1" cy="752.1" r="8.25" fill="#00ff00" stroke="#000" stroke-width="1.3"/>
<circle cx="723.9" cy="752.1" r="8.25" fill="#00ff00" stroke="#000" stroke-width="1.3"/>
<circle cx="735.7" cy="754.1" r="8.25" fill="#00ff00" stroke="#000" stroke-width="1.3"/>
<circle cx="770.2" cy="755.1" r="8.25" fill="#00ff00" stroke="#000" stroke-width="1.3"/>
<circle cx="782.1" cy="755.1" r="8.25" fill="#00ff00" stroke="#000" stroke-width="1.3"/>
<circle cx="794" cy="755.1" r="8.25" fill="#00ff00" stroke="#000" stroke-width="1.3"/>
<circle cx="805.9" cy="755.1" r="8.25" fill="#00ff00" stroke="#000" stroke-width="1.3"/>
<circle cx="840.9" cy="758" r="8.25" fill="#00ff00" stroke="#000" stroke-width="1.3"/>
<circle cx="852.8" cy="758.4" r="8.25" fill="#00ff00" stroke="#000" stroke-width="1.3"/>
<circle cx="864.7" cy="758.5" r="8.25" fill="#00ff00" stroke="#000" stroke-width="1.3"/>
<circle cx="876.6" cy="758.9" r="8.25" fill="#00ff00" stroke="#000" stroke-width="1.3"/>
<circle cx="888.5" cy="758.9" r="8.25" fill="#00ff00" stroke="#000" stroke-width="1.3"/>
<circle cx="922.8" cy="769.9" r="8.25" fill="#00ff00" stroke="#000" stroke-width="1.3"/>
<circle cx="934.7" cy="771.6" r="8.25" fill="#00ff00" stroke="#000" stroke-width="1.3"/>
<circle cx="946.6" cy="772.9" r="8.25" fill="#00ff00" stroke="#000" stroke-width="1.3"/>
<circle cx="958.5" cy="773.6" r="8.25" fill="#00ff00" stroke="#000" stroke-width="1.3"/>
<circle cx="970.4" cy="774.1" r="8.25" fill="#00ff00" stroke="#000" stroke-width="1.3"/>
<circle cx="1004.2" cy="776.3" r="8.25" fill="#00ff00" stroke="#000" stroke-width="1.3"/>
<circle cx="1016.1" cy="777" r="8.25" fill="#00ff00" stroke="#000" stroke-width="1.3"/>
<circle cx="1028" cy="777.5" r="8.25" fill="#00ff00" stroke="#000" stroke-width="1.3"/>
<circle cx="1039.9" cy="777.9" r="8.25" fill="#00ff00" stroke="#000" stroke-width="1.3"/>
<circle cx="1051.8" cy="777.9" r="8.25" fill="#00ff00" stroke="#000" stroke-width="1.3"/>
<circle cx="1086.5" cy="778.9" r="8.25" fill="#00ff00" stroke="#000" stroke-width="1.3"/>
<circle cx="1098.4" cy="779.6" r="8.25" fill="#00ff00" stroke="#000" stroke-width="1.3"/>
<circle cx="1110.3" cy="780.1" r="8.25" fill="#00ff00" stroke="#000" stroke-width="1.3"/>
<circle cx="1122.2" cy="780.1" r="8.25" fill="#00ff00" stroke="#000" stroke-width="1.3"/>
<circle cx="1134.1" cy="780.1" r="8.25" fill="#00ff00" stroke="#000" stroke-width="1.3"/>
<circle cx="1168.8" cy="780.9" r="8.25" fill="#00ff00" stroke="#000" stroke-width="1.3"/>
<circle cx="1180.7" cy="781.3" r="8.25" fill="#00ff00" stroke="#000" stroke-width="1.3"/>
<circle cx="1192.6" cy="781.4" r="8.25" fill="#00ff00" stroke="#000" stroke-width="1.3"/>
<circle cx="1204.5" cy="781.4" r="8.25" fill="#00ff00" stroke="#000" stroke-width="1.3"/>
<circle cx="1216.4" cy="781.4" r="8.25" fill="#00ff00" stroke="#000" stroke-width="1.3"/>
<circle cx="1250.7" cy="782.5" r="8.25" fill="#00ff00" stroke="#000" stroke-width="1.3"/>
<circle cx="1262.6" cy="782.8" r="8.25" fill="#00ff00" stroke="#000" stroke-width="1.3"/>
<circle cx="1274.5" cy="783" r="8.25" fill="#00ff00" stroke="#000" stroke-width="1.3"/>
<circle cx="1286.4" cy="783" r="8.25" fill="#00ff00" stroke="#000" stroke-width="1.3"/>
<circle cx="1298.3" cy="783" r="8.25" fill="#00ff00" stroke="#000" stroke-width="1.3"/>
<circle cx="1333" cy="728.2" r="8.25" fill="#00ff00" stroke="#000" stroke-width="1.3"/>
<circle cx="1344.9" cy="726.5" r="8.25" fill="#00ff00" stroke="#000" stroke-width="1.3"/>
<circle cx="1356.8" cy="725" r="8.25" fill="#00ff00" stroke="#000" stroke-width="1.3"/>
<circle cx="1368.7" cy="725.3" r="8.25" fill="#00ff00" stroke="#000" stroke-width="1.3"/>
<circle cx="1380.6" cy="726.1" r="8.25" fill="#00ff00" stroke="#000" stroke-width="1.3"/>
<circle cx="1414.9" cy="733.8" r="8.25" fill="#00ff00" stroke="#000" stroke-width="1.3"/>
<circle cx="1426.8" cy="735.5" r="8.25" fill="#00ff00" stroke="#000" stroke-width="1.3"/>
<circle cx="1438.7" cy="736.8" r="8.25" fill="#00ff00" stroke="#000" stroke-width="1.3"/>
<circle cx="1450.6" cy="737.2" r="8.25" fill="#00ff00" stroke="#000" stroke-width="1.3"/>
<circle cx="1462.5" cy="738" r="8.25" fill="#00ff00" stroke="#000" stroke-width="1.3"/>
<circle cx="1497.4" cy="742.3" r="8.25" fill="#00ff00" stroke="#000" stroke-width="1.3"/>
<circle cx="1509.3" cy="743.1" r="8.25" fill="#00ff00" stroke="#000" stroke-width="1.3"/>
<circle cx="1521.2" cy="743.6" r="8.25" fill="#00ff00" stroke="#000" stroke-width="1.3"/>
<circle cx="1533.1" cy="744" r="8.25" fill="#00ff00" stroke="#000" stroke-width="1.3"/>
<circle cx="1545" cy="744.3" r="8.25" fill="#00ff00" stroke="#000" stroke-width="1.3"/>
<circle cx="1579.3" cy="745.7" r="8.25" fill="#00ff00" stroke="#000" stroke-width="1.3"/>
<circle cx="1591.2" cy="746.5" r="8.25" fill="#00ff00" stroke="#000" stroke-width="1.3"/>
<circle cx="1603.1" cy="747" r="8.25" fill="#00ff00" stroke="#000" stroke-width="1.3"/>
<circle cx="1615" cy="747.3" r="8.25" fill="#00ff00" stroke="#000" stroke-width="1.3"/>
<circle cx="1626.9" cy="747.7" r="8.25" fill="#00ff00" stroke="#000" stroke-width="1.3"/>
</g>
<rect x="96.5" y="666" width="1553.4" height="224.2" fill="none" stroke="#000" stroke-width="1.9"/>
<line x1="87.5" y1="889.8" x2="96.5" y2="889.8" stroke="#000" stroke-width="1.9" />
<line x1="91.9" y1="862.63" x2="96.5" y2="862.63" stroke="#000" stroke-width="1.9" />
<line x1="91.9" y1="846.74" x2="96.5" y2="846.74" stroke="#000" stroke-width="1.9" />
<line x1="91.9" y1="835.46" x2="96.5" y2="835.46" stroke="#000" stroke-width="1.9" />
<line x1="91.9" y1="826.72" x2="96.5" y2="826.72" stroke="#000" stroke-width="1.9" />
<line x1="91.9" y1="819.57" x2="96.5" y2="819.57" stroke="#000" stroke-width="1.9" />
<line x1="91.9" y1="813.53" x2="96.5" y2="813.53" stroke="#000" stroke-width="1.9" />
<line x1="91.9" y1="808.3" x2="96.5" y2="808.3" stroke="#000" stroke-width="1.9" />
<line x1="91.9" y1="803.68" x2="96.5" y2="803.68" stroke="#000" stroke-width="1.9" />
<text transform="translate(81.2,896) scale(1,1.045)" font-size="21.3" font-weight="bold" text-anchor="end" stroke="#000" stroke-width="0.55" stroke-linejoin="round" >10</text>
<line x1="87.5" y1="799.55" x2="96.5" y2="799.55" stroke="#000" stroke-width="1.9" />
<line x1="91.9" y1="772.38" x2="96.5" y2="772.38" stroke="#000" stroke-width="1.9" />
<line x1="91.9" y1="756.49" x2="96.5" y2="756.49" stroke="#000" stroke-width="1.9" />
<line x1="91.9" y1="745.21" x2="96.5" y2="745.21" stroke="#000" stroke-width="1.9" />
<line x1="91.9" y1="736.47" x2="96.5" y2="736.47" stroke="#000" stroke-width="1.9" />
<line x1="91.9" y1="729.32" x2="96.5" y2="729.32" stroke="#000" stroke-width="1.9" />
<line x1="91.9" y1="723.28" x2="96.5" y2="723.28" stroke="#000" stroke-width="1.9" />
<line x1="91.9" y1="718.05" x2="96.5" y2="718.05" stroke="#000" stroke-width="1.9" />
<line x1="91.9" y1="713.43" x2="96.5" y2="713.43" stroke="#000" stroke-width="1.9" />
<text transform="translate(81.2,805.75) scale(1,1.045)" font-size="21.3" font-weight="bold" text-anchor="end" stroke="#000" stroke-width="0.55" stroke-linejoin="round" >100</text>
<line x1="87.5" y1="709.3" x2="96.5" y2="709.3" stroke="#000" stroke-width="1.9" />
<line x1="91.9" y1="682.13" x2="96.5" y2="682.13" stroke="#000" stroke-width="1.9" />
<line x1="91.9" y1="666.24" x2="96.5" y2="666.24" stroke="#000" stroke-width="1.9" />
<text transform="translate(81.2,715.5) scale(1,1.045)" font-size="21.3" font-weight="bold" text-anchor="end" stroke="#000" stroke-width="0.55" stroke-linejoin="round" >1000</text>
<line x1="96.5" y1="890.2" x2="96.5" y2="899.2" stroke="#000" stroke-width="1.9" />
<text transform="translate(96.5,922.6) scale(1,1.045)" font-size="21.3" font-weight="bold" text-anchor="middle" stroke="#000" stroke-width="0.55" stroke-linejoin="round" >0</text>
<line x1="155.12" y1="890.2" x2="155.12" y2="894.8" stroke="#000" stroke-width="1.9" />
<line x1="213.74" y1="890.2" x2="213.74" y2="899.2" stroke="#000" stroke-width="1.9" />
<text transform="translate(213.74,922.6) scale(1,1.045)" font-size="21.3" font-weight="bold" text-anchor="middle" stroke="#000" stroke-width="0.55" stroke-linejoin="round" >10</text>
<line x1="272.36" y1="890.2" x2="272.36" y2="894.8" stroke="#000" stroke-width="1.9" />
<line x1="330.98" y1="890.2" x2="330.98" y2="899.2" stroke="#000" stroke-width="1.9" />
<text transform="translate(330.98,922.6) scale(1,1.045)" font-size="21.3" font-weight="bold" text-anchor="middle" stroke="#000" stroke-width="0.55" stroke-linejoin="round" >20</text>
<line x1="389.6" y1="890.2" x2="389.6" y2="894.8" stroke="#000" stroke-width="1.9" />
<line x1="448.22" y1="890.2" x2="448.22" y2="899.2" stroke="#000" stroke-width="1.9" />
<text transform="translate(448.22,922.6) scale(1,1.045)" font-size="21.3" font-weight="bold" text-anchor="middle" stroke="#000" stroke-width="0.55" stroke-linejoin="round" >30</text>
<line x1="506.84" y1="890.2" x2="506.84" y2="894.8" stroke="#000" stroke-width="1.9" />
<line x1="565.46" y1="890.2" x2="565.46" y2="899.2" stroke="#000" stroke-width="1.9" />
<text transform="translate(565.46,922.6) scale(1,1.045)" font-size="21.3" font-weight="bold" text-anchor="middle" stroke="#000" stroke-width="0.55" stroke-linejoin="round" >40</text>
<line x1="624.08" y1="890.2" x2="624.08" y2="894.8" stroke="#000" stroke-width="1.9" />
<line x1="682.7" y1="890.2" x2="682.7" y2="899.2" stroke="#000" stroke-width="1.9" />
<text transform="translate(682.7,922.6) scale(1,1.045)" font-size="21.3" font-weight="bold" text-anchor="middle" stroke="#000" stroke-width="0.55" stroke-linejoin="round" >50</text>
<line x1="741.32" y1="890.2" x2="741.32" y2="894.8" stroke="#000" stroke-width="1.9" />
<line x1="799.94" y1="890.2" x2="799.94" y2="899.2" stroke="#000" stroke-width="1.9" />
<text transform="translate(799.94,922.6) scale(1,1.045)" font-size="21.3" font-weight="bold" text-anchor="middle" stroke="#000" stroke-width="0.55" stroke-linejoin="round" >60</text>
<line x1="858.56" y1="890.2" x2="858.56" y2="894.8" stroke="#000" stroke-width="1.9" />
<line x1="917.18" y1="890.2" x2="917.18" y2="899.2" stroke="#000" stroke-width="1.9" />
<text transform="translate(917.18,922.6) scale(1,1.045)" font-size="21.3" font-weight="bold" text-anchor="middle" stroke="#000" stroke-width="0.55" stroke-linejoin="round" >70</text>
<line x1="975.8" y1="890.2" x2="975.8" y2="894.8" stroke="#000" stroke-width="1.9" />
<line x1="1034.42" y1="890.2" x2="1034.42" y2="899.2" stroke="#000" stroke-width="1.9" />
<text transform="translate(1034.42,922.6) scale(1,1.045)" font-size="21.3" font-weight="bold" text-anchor="middle" stroke="#000" stroke-width="0.55" stroke-linejoin="round" >80</text>
<line x1="1093.04" y1="890.2" x2="1093.04" y2="894.8" stroke="#000" stroke-width="1.9" />
<line x1="1151.66" y1="890.2" x2="1151.66" y2="899.2" stroke="#000" stroke-width="1.9" />
<text transform="translate(1151.66,922.6) scale(1,1.045)" font-size="21.3" font-weight="bold" text-anchor="middle" stroke="#000" stroke-width="0.55" stroke-linejoin="round" >90</text>
<line x1="1210.28" y1="890.2" x2="1210.28" y2="894.8" stroke="#000" stroke-width="1.9" />
<line x1="1268.9" y1="890.2" x2="1268.9" y2="899.2" stroke="#000" stroke-width="1.9" />
<text transform="translate(1268.9,922.6) scale(1,1.045)" font-size="21.3" font-weight="bold" text-anchor="middle" stroke="#000" stroke-width="0.55" stroke-linejoin="round" >100</text>
<line x1="1327.52" y1="890.2" x2="1327.52" y2="894.8" stroke="#000" stroke-width="1.9" />
<line x1="1386.14" y1="890.2" x2="1386.14" y2="899.2" stroke="#000" stroke-width="1.9" />
<text transform="translate(1386.14,922.6) scale(1,1.045)" font-size="21.3" font-weight="bold" text-anchor="middle" stroke="#000" stroke-width="0.55" stroke-linejoin="round" >110</text>
<line x1="1444.76" y1="890.2" x2="1444.76" y2="894.8" stroke="#000" stroke-width="1.9" />
<line x1="1503.38" y1="890.2" x2="1503.38" y2="899.2" stroke="#000" stroke-width="1.9" />
<text transform="translate(1503.38,922.6) scale(1,1.045)" font-size="21.3" font-weight="bold" text-anchor="middle" stroke="#000" stroke-width="0.55" stroke-linejoin="round" >120</text>
<line x1="1562" y1="890.2" x2="1562" y2="894.8" stroke="#000" stroke-width="1.9" />
<line x1="1620.62" y1="890.2" x2="1620.62" y2="899.2" stroke="#000" stroke-width="1.9" />
<text transform="translate(1620.62,922.6) scale(1,1.045)" font-size="21.3" font-weight="bold" text-anchor="middle" stroke="#000" stroke-width="0.55" stroke-linejoin="round" >130</text>
<text transform="translate(124.85,682.9) scale(1,1.04)" font-size="17" font-weight="bold" text-anchor="middle" stroke="#000" stroke-width="0.55" stroke-linejoin="round" >0.5C</text>
<text transform="translate(210.75,692.3) scale(1,1.04)" font-size="17" font-weight="bold" text-anchor="middle" stroke="#000" stroke-width="0.55" stroke-linejoin="round" >0.75C</text>
<text transform="translate(294.15,706.6) scale(1,1.04)" font-size="17" font-weight="bold" text-anchor="middle" stroke="#000" stroke-width="0.55" stroke-linejoin="round" >1C</text>
<text transform="translate(372.9,759.6) scale(1,1.04)" font-size="17" font-weight="bold" text-anchor="middle" stroke="#000" stroke-width="0.55" stroke-linejoin="round" >1.25C</text>
<text transform="translate(454.8,760.9) scale(1,1.04)" font-size="17" font-weight="bold" text-anchor="middle" stroke="#000" stroke-width="0.55" stroke-linejoin="round" >1.5C</text>
<text transform="translate(541.05,772.9) scale(1,1.04)" font-size="17" font-weight="bold" text-anchor="middle" stroke="#000" stroke-width="0.55" stroke-linejoin="round" >1.75C</text>
<text transform="translate(621.85,778.4) scale(1,1.04)" font-size="17" font-weight="bold" text-anchor="middle" stroke="#000" stroke-width="0.55" stroke-linejoin="round" >2C</text>
<text transform="translate(707.9,780.4) scale(1,1.04)" font-size="17" font-weight="bold" text-anchor="middle" stroke="#000" stroke-width="0.55" stroke-linejoin="round" >2.25C</text>
<text transform="translate(791.95,785.5) scale(1,1.04)" font-size="17" font-weight="bold" text-anchor="middle" stroke="#000" stroke-width="0.55" stroke-linejoin="round" >2.5C</text>
<text transform="translate(868.2,788.5) scale(1,1.04)" font-size="17" font-weight="bold" text-anchor="middle" stroke="#000" stroke-width="0.55" stroke-linejoin="round" >2.75C</text>
<text transform="translate(948.45,756.7) scale(1,1.04)" font-size="17" font-weight="bold" text-anchor="middle" stroke="#000" stroke-width="0.55" stroke-linejoin="round" >3C</text>
<text transform="translate(1029.6,763.4) scale(1,1.04)" font-size="17" font-weight="bold" text-anchor="middle" stroke="#000" stroke-width="0.55" stroke-linejoin="round" >3.25C</text>
<text transform="translate(1110.85,765.3) scale(1,1.04)" font-size="17" font-weight="bold" text-anchor="middle" stroke="#000" stroke-width="0.55" stroke-linejoin="round" >3.5C</text>
<text transform="translate(1193.9,768.5) scale(1,1.04)" font-size="17" font-weight="bold" text-anchor="middle" stroke="#000" stroke-width="0.55" stroke-linejoin="round" >3.75C</text>
<text transform="translate(1274.5,769.4) scale(1,1.04)" font-size="17" font-weight="bold" text-anchor="middle" stroke="#000" stroke-width="0.55" stroke-linejoin="round" >4C</text>
<text transform="translate(1359.05,705.8) scale(1,1.04)" font-size="17" font-weight="bold" text-anchor="middle" stroke="#000" stroke-width="0.55" stroke-linejoin="round" >1C</text>
<text transform="translate(1442,716) scale(1,1.04)" font-size="17" font-weight="bold" text-anchor="middle" stroke="#000" stroke-width="0.55" stroke-linejoin="round" >1.25C</text>
<text transform="translate(1523.45,726.5) scale(1,1.04)" font-size="17" font-weight="bold" text-anchor="middle" stroke="#000" stroke-width="0.55" stroke-linejoin="round" >1.5C</text>
<text transform="translate(1603.6,729.5) scale(1,1.04)" font-size="17" font-weight="bold" text-anchor="middle" stroke="#000" stroke-width="0.55" stroke-linejoin="round" >1.75C</text>
<rect x="103.5" y="824.4" width="243.9" height="57.9" fill="#fff" stroke="#333" stroke-width="1"/>
<rect x="128.5" y="833.2" width="15.2" height="15.4" fill="#404040" stroke="#222" stroke-width="1.1"/>
<circle cx="136.0" cy="867" r="8.3" fill="#00ff00" stroke="#000" stroke-width="1.3"/>
<text x="160.3" y="847.8" font-size="21.3" font-weight="bold" text-anchor="start" stroke="#000" stroke-width="0.55" stroke-linejoin="round" >Charge capacity</text>
<text x="160.3" y="874.1" font-size="21.3" font-weight="bold" text-anchor="start" stroke="#000" stroke-width="0.55" stroke-linejoin="round" >Dicharge capacity</text>
<g transform="translate(25.3,778.2) rotate(-90)">
<text x="0" y="0" font-size="21.3" font-weight="bold" text-anchor="middle" stroke="#000" stroke-width="1.0" stroke-linejoin="round" >Specific capacity (μAh cm<tspan font-size="14.9" dy="-8.9">-2</tspan><tspan dy="8.9">)</tspan></text>
</g>
<text transform="translate(101.0,644.5) scale(0.93,1)" font-size="38.6" font-weight="bold" stroke="#000" stroke-width="1.1">d</text>
</g>
</svg>
</body>
</html>
